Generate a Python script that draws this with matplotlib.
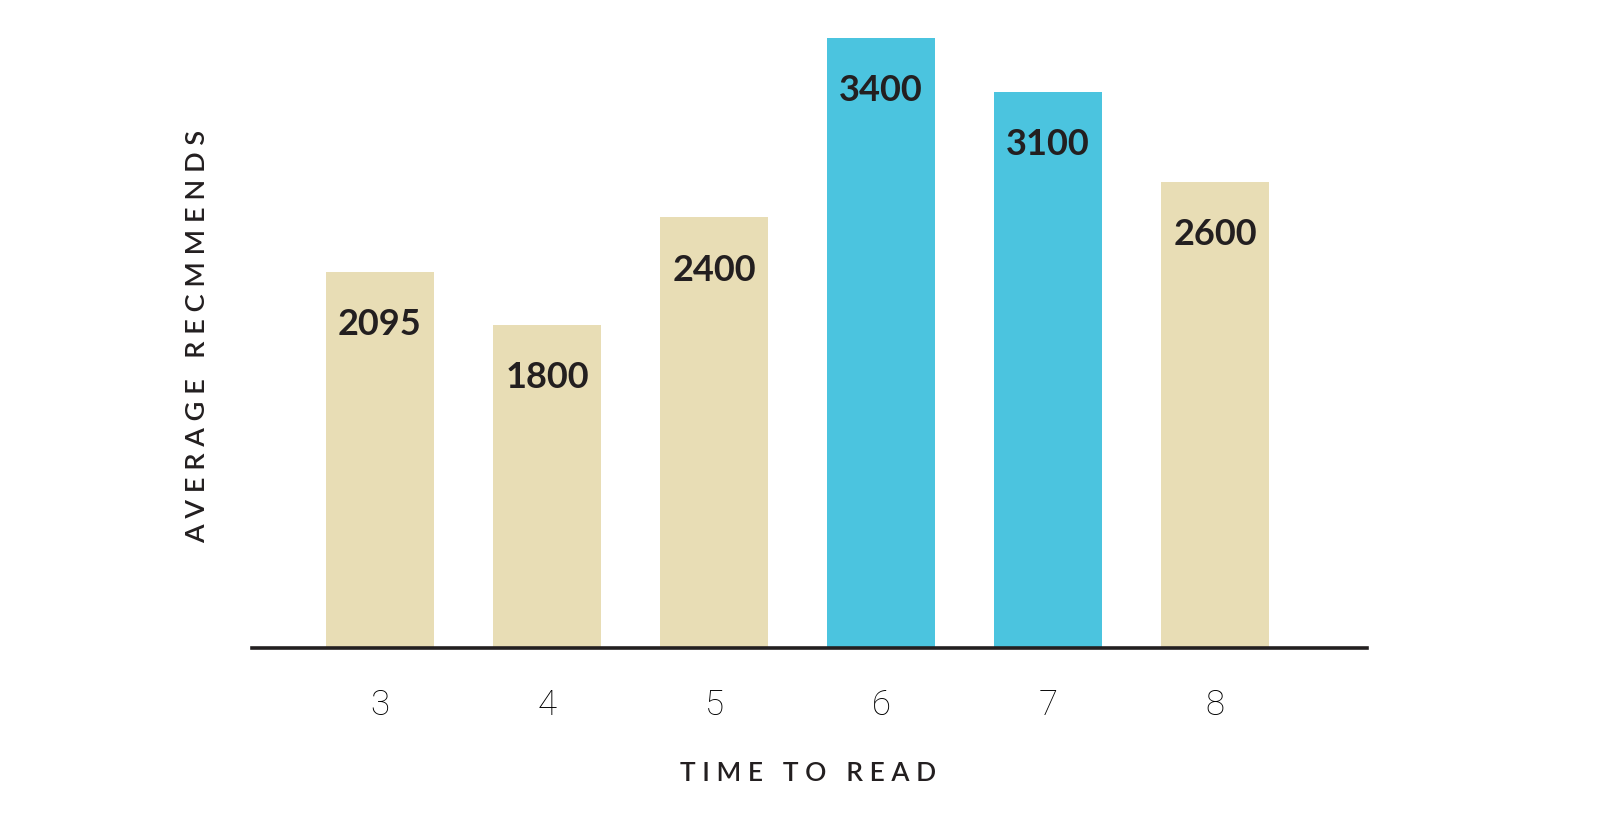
import matplotlib
matplotlib.use("Agg")
import matplotlib.pyplot as plt

# data
minutes = [3, 4, 5, 6, 7, 8]
recommends = [2095, 1800, 2400, 3400, 3100, 2600]
highlight = [False, False, False, True, True, False]

beige = "#E8DDB5"
blue = "#4BC4DF"
ink = "#231F20"

fig = plt.figure(figsize=(16.09, 8.13), dpi=100)
ax = fig.add_axes([252 / 1609, 165 / 813, 1115 / 1609, 648 / 813])

colors = [blue if h else beige for h in highlight]
bars = ax.bar(minutes, recommends, width=0.647, color=colors, zorder=1)

for x, v in zip(minutes, recommends):
    ax.annotate(str(v), xy=(x, v), xytext=(0, -38), textcoords="offset points",
                ha="center", va="center", fontsize=26, fontweight="bold",
                family="Lato", color=ink)

ax.set_xlim(2.234, 8.91)
ax.set_ylim(0, 3612)
ax.set_yticks([])
ax.set_xticks(minutes)
ax.set_xticklabels([str(m) for m in minutes], family="Roboto", fontweight="light",
                   fontsize=25, color="#000000")
ax.tick_params(axis="x", length=0, pad=29)

for s in ["top", "right", "left"]:
    ax.spines[s].set_visible(False)
ax.spines["bottom"].set_color(ink)
ax.spines["bottom"].set_linewidth(2.6)
ax.spines["bottom"].set_zorder(3)

fig.text(808 / 1609, 1 - 773 / 813, " ".join("TIME TO READ"), ha="center", va="center",
         fontsize=19, fontweight="semibold", family="Lato", color=ink)
fig.text(198 / 1609, 1 - 336 / 813, " ".join("AVERAGE RECMMENDS"), ha="center", va="center",
         rotation=90, fontsize=19.5, fontweight="semibold", family="Lato", color=ink)

fig.savefig("out.png", dpi=100)
